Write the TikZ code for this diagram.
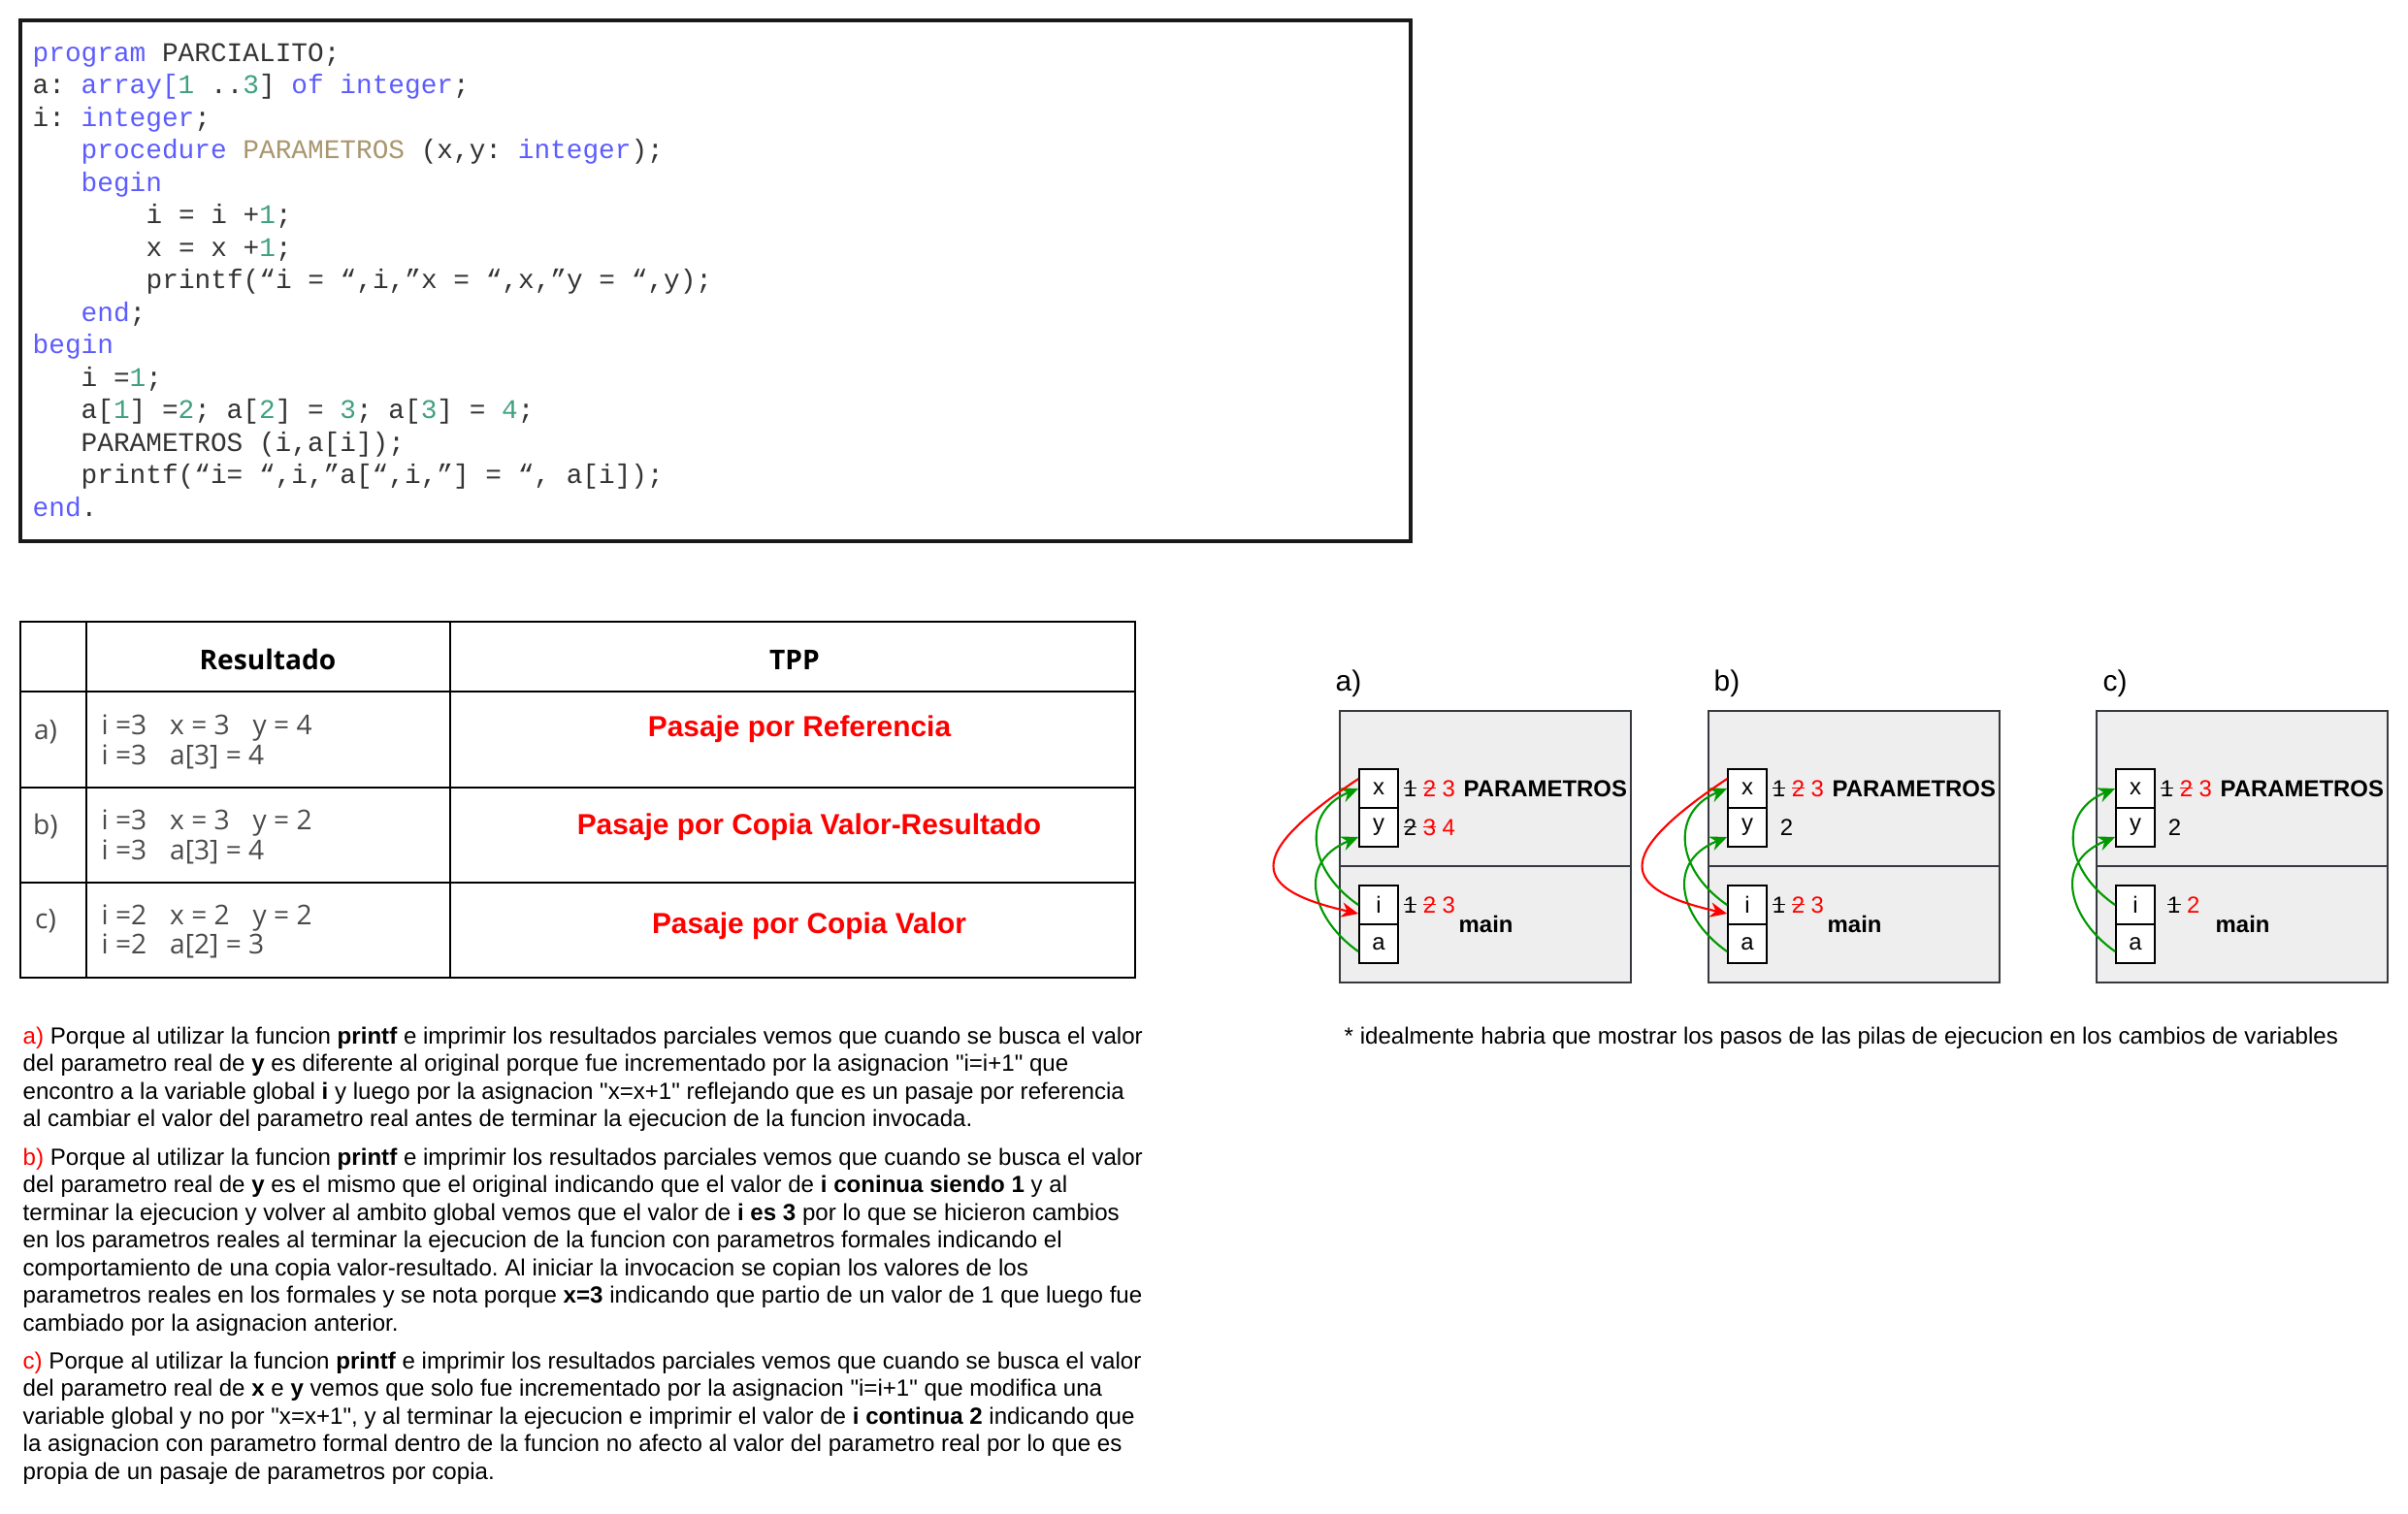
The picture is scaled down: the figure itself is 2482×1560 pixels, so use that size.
\documentclass[tikz,border=0pt]{standalone}
\usepackage{fontspec}
\setmainfont{Liberation Sans}
\newfontfamily\codefont{Liberation Mono}
\newfontfamily\tablefont{Open Sans}
\newfontfamily\quotefont{Liberation Sans}
\usetikzlibrary{positioning,calc,arrows.meta}
\frenchspacing

\definecolor{kwblue}{RGB}{92,92,255}
\definecolor{numgreen}{RGB}{64,160,128}
\definecolor{proctan}{RGB}{168,150,110}
\definecolor{codegray}{RGB}{51,51,51}
\definecolor{tabgray}{RGB}{74,74,74}
\definecolor{framegray}{RGB}{54,57,61}
\definecolor{framefill}{RGB}{238,238,238}
\definecolor{arrowgreen}{RGB}{0,153,0}

\newcommand\kwd[1]{\textcolor{kwblue}{#1}}
\newcommand\numc[1]{\textcolor{numgreen}{#1}}
\newcommand\procc[1]{\textcolor{proctan}{#1}}
\newcommand\dq{{\quotefont\symbol{34}}}
\newcommand\tachado[1]{\begingroup\setbox0\hbox{#1}\rlap{\rule[0.33em]{\wd0}{0.07em}}\box0\endgroup}

\tikzset{
  codeline/.style={anchor=base west, inner sep=0pt, text=codegray,
    font=\codefont\fontsize{7.9pt}{9.5pt}\selectfont},
  tabline/.style={line width=0.7pt, draw=black},
  tabhead/.style={inner sep=0pt, font=\tablefont\bfseries\fontsize{8pt}{9.6pt}\selectfont},
  tablbl/.style={inner sep=0pt, text=tabgray, font=\tablefont\fontsize{8pt}{9.6pt}\selectfont},
  tabres/.style={anchor=base west, inner sep=0pt, text=tabgray,
    font=\tablefont\fontsize{8pt}{9.6pt}\selectfont},
  tpp/.style={inner sep=0pt, text=red, font=\bfseries\fontsize{8.5pt}{10pt}\selectfont},
  stackframe/.style={draw=framegray, fill=framefill, line width=0.6pt,
    minimum width=3cm, minimum height=2.8cm, inner sep=0pt},
  cell/.style={draw=black, fill=white, line width=0.5pt, minimum width=0.4cm,
    minimum height=0.4cm, inner sep=0pt, font=\fontsize{6.8pt}{8pt}\selectfont},
  vals/.style={inner sep=0pt, font=\fontsize{6.8pt}{8pt}\selectfont},
  scopename/.style={anchor=west, inner sep=0pt, font=\bfseries\fontsize{6.8pt}{8pt}\selectfont},
  panellbl/.style={anchor=west, inner sep=0pt, font=\fontsize{8.5pt}{10pt}\selectfont},
  grnarrow/.style={draw=arrowgreen, line width=0.6pt, -{Stealth[length=5pt,width=4.4pt]}},
  redarrow/.style={draw=red, line width=0.6pt, -{Stealth[length=5pt,width=4.4pt]}},
  para/.style={anchor=north west, align=left, inner sep=0pt,
    font=\fontsize{6.85pt}{8.1pt}\selectfont}
}

\begin{document}
\begin{tikzpicture}[x=0.01cm,y=-0.01cm]
  \useasboundingbox (0,0) rectangle (2482,1560);

  % codigo del programa
  \draw[line width=0.9pt, draw=black!90] (21,21) rectangle (1454,558);
  \node[codeline] (c1) at (33,63) {\kwd{program} PARCIALITO;};
  \node[codeline] (c2) at (33,96.5) {a: \kwd{array[}\numc{1} ..\numc{3}] \kwd{of} \kwd{integer};};
  \node[codeline] (c3) at (33,130) {i: \kwd{integer};};
  \node[codeline] (c4) at (83,163.5) {\kwd{procedure} \procc{PARAMETROS} (x,y: \kwd{integer});};
  \node[codeline] (c5) at (83,197) {\kwd{begin}};
  \node[codeline] (c6) at (150,230.5) {i = i +\numc{1};};
  \node[codeline] (c7) at (150,264) {x = x +\numc{1};};
  \node[codeline] (c8) at (150,297.5) {printf(“i = “,i,”x = “,x,”y = “,y);};
  \node[codeline] (c9) at (83,331) {\kwd{end};};
  \node[codeline] (c10) at (33,364.5) {\kwd{begin}};
  \node[codeline] (c11) at (83,398) {i =\numc{1};};
  \node[codeline] (c12) at (83,431.5) {a[\numc{1}] =\numc{2}; a[\numc{2}] = \numc{3}; a[\numc{3}] = \numc{4};};
  \node[codeline] (c13) at (83,465) {PARAMETROS (i,a[i]);};
  \node[codeline] (c14) at (83,498.5) {printf(“i= “,i,”a[“,i,”] = “, a[i]);};
  \node[codeline] (c15) at (33,532) {\kwd{end}.};

  % tabla de resultados
  \draw[tabline] (21,641) rectangle (1170,1008);
  \draw[tabline] (89,641) -- (89,1008);
  \draw[tabline] (464,641) -- (464,1008);
  \draw[tabline] (21,713) -- (1170,713);
  \draw[tabline] (21,812) -- (1170,812);
  \draw[tabline] (21,910) -- (1170,910);
  \node[tabhead] (hres) at (276,680) {Resultado};
  \node[tabhead] (htpp) at (819,680) {TPP};
  \node[tablbl] (la) at (47,755) {a)};
  \node[tablbl] (lb) at (47,852) {b)};
  \node[tablbl] (lc) at (47,950) {c)};
  \node[tabres] (ra1) at (104,757) {i =3\hspace{0.85em}x = 3\hspace{0.85em}y = 4};
  \node[tabres] (ra2) at (104,788) {i =3\hspace{0.85em}a[3] = 4};
  \node[tabres] (rb1) at (104,855) {i =3\hspace{0.85em}x = 3\hspace{0.85em}y = 2};
  \node[tabres] (rb2) at (104,886) {i =3\hspace{0.85em}a[3] = 4};
  \node[tabres] (rc1) at (104,953) {i =2\hspace{0.85em}x = 2\hspace{0.85em}y = 2};
  \node[tabres] (rc2) at (104,983) {i =2\hspace{0.85em}a[2] = 3};
  \node[tpp] (ta) at (824,752) {Pasaje por Referencia};
  \node[tpp] (tb) at (834,853) {Pasaje por Copia Valor-Resultado};
  \node[tpp] (tc) at (834,955) {Pasaje por Copia Valor};

  % pilas de ejecucion
  \foreach \fx/\pan/\lx in {1381/a/1376, 1761/b/1766, 2161/c/2167} {
    \node[stackframe] (f-\pan) at (\fx+150,873) {};
    \draw[draw=framegray, line width=0.6pt] (\fx,893) -- (\fx+300,893);
    \node[panellbl] (l-\pan) at (\lx,705) {\pan)};
    \node[cell] (x-\pan) at (\fx+40,813) {x};
    \node[cell] (y-\pan) at (\fx+40,853) {y};
    \node[cell] (i-\pan) at (\fx+40,933) {i};
    \node[cell] (a-\pan) at (\fx+40,973) {a};
    \node[scopename] (p-\pan) at (\fx+127,813) {PARAMETROS};
    \node[scopename] (m-\pan) at (\fx+122,953) {main};
    \draw[grnarrow] (i-\pan.west) .. controls +(-55,-38) and +(-57,23) .. (x-\pan.west);
    \draw[grnarrow] ($(a-\pan.west)+(0,8)$) .. controls +(-46,-32) and +(-66,27) .. ($(y-\pan.west)+(0,10)$);
  }
  \node[vals, right=1.2pt of x-a] (vx-a) {\tachado{1} \textcolor{red}{\tachado{2} 3}};
  \node[vals, right=1.2pt of y-a] (vy-a) {\tachado{2} \textcolor{red}{\tachado{3} 4}};
  \node[vals, right=1.2pt of i-a] (vi-a) {\tachado{1} \textcolor{red}{\tachado{2} 3}};
  \node[vals, right=1.2pt of x-b] (vx-b) {\tachado{1} \textcolor{red}{\tachado{2} 3}};
  \node[vals, right=3.5pt of y-b] (vy-b) {2};
  \node[vals, right=1.2pt of i-b] (vi-b) {\tachado{1} \textcolor{red}{\tachado{2} 3}};
  \node[vals, right=1.2pt of x-c] (vx-c) {\tachado{1} \textcolor{red}{\tachado{2} 3}};
  \node[vals, right=3.5pt of y-c] (vy-c) {2};
  \node[vals, right=3.3pt of i-c] (vi-c) {\tachado{1} \textcolor{red}{2}};
  \draw[redarrow] ($(x-a.west)+(0,-10)$) .. controls +(-120,80) and +(-110,-25) .. ($(i-a.west)+(0,9)$);
  \draw[redarrow] ($(x-b.west)+(0,-10)$) .. controls +(-120,80) and +(-110,-25) .. ($(i-b.west)+(0,9)$);

  % explicaciones
  \node[para] (pa) at (23,1058) {{\color{red}a)} Porque al utilizar la funcion \textbf{printf} e imprimir los resultados parciales vemos que cuando se busca el valor\\
    del parametro real de \textbf{y} es diferente al original porque fue incrementado por la asignacion \dq i=i+1\dq{} que\\
    encontro a la variable global \textbf{i} y luego por la asignacion \dq x=x+1\dq{} reflejando que es un pasaje por referencia\\
    al cambiar el valor del parametro real antes de terminar la ejecucion de la funcion invocada.};
  \node[para] (pb) at (23,1183) {{\color{red}b)} Porque al utilizar la funcion \textbf{printf} e imprimir los resultados parciales vemos que cuando se busca el valor\\
    del parametro real de \textbf{y} es el mismo que el original indicando que el valor de \textbf{i coninua siendo 1} y al\\
    terminar la ejecucion y volver al ambito global vemos que el valor de \textbf{i es 3} por lo que se hicieron cambios\\
    en los parametros reales al terminar la ejecucion de la funcion con parametros formales indicando el\\
    comportamiento de una copia valor-resultado. Al iniciar la invocacion se copian los valores de los\\
    parametros reales en los formales y se nota porque \textbf{x=3} indicando que partio de un valor de 1 que luego fue\\
    cambiado por la asignacion anterior.};
  \node[para] (pc) at (23,1393) {{\color{red}c)} Porque al utilizar la funcion \textbf{printf} e imprimir los resultados parciales vemos que cuando se busca el valor\\
    del parametro real de \textbf{x} e \textbf{y} vemos que solo fue incrementado por la asignacion \dq i=i+1\dq{} que modifica una\\
    variable global y no por \dq x=x+1\dq, y al terminar la ejecucion e imprimir el valor de \textbf{i continua 2} indicando que\\
    la asignacion con parametro formal dentro de la funcion no afecto al valor del parametro real por lo que es\\
    propia de un pasaje de parametros por copia.};
  \node[anchor=base west, inner sep=0pt, font=\fontsize{6.85pt}{8.1pt}\selectfont] (nota) at (1385,1076)
    {* idealmente habria que mostrar los pasos de las pilas de ejecucion en los cambios de variables};
\end{tikzpicture}
\end{document}
